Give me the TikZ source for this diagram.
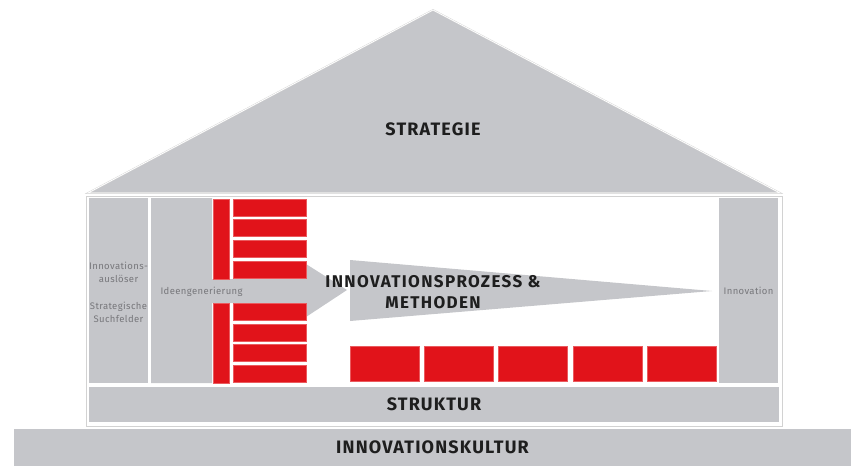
\documentclass[tikz,border=0pt]{standalone}
\usepackage{fontspec}
\newfontfamily\titelfont[LetterSpace=6.5]{Fira Sans}
\newfontfamily\prozessfont[LetterSpace=8]{Fira Sans}
\newfontfamily\kleinfont[LetterSpace=4]{Fira Sans}
\definecolor{hausgrau}{HTML}{C5C6CA}
\definecolor{hausrot}{HTML}{E1131A}
\definecolor{hausrand}{HTML}{EA5A5E}
\definecolor{schrift}{HTML}{1E1E1E}
\definecolor{grautext}{HTML}{77777B}
\begin{document}
\begin{tikzpicture}[x=1pt, y=-1pt,
    grau/.style = {rectangle, fill = hausgrau, inner sep = 0pt},
    rot/.style = {rectangle, fill = hausrot, draw = hausrand,
      line width = 0.8pt, inner sep = 0pt},
    titel/.style = {font = \titelfont\bfseries\fontsize{18}{21}\selectfont,
      text = schrift},
    klein/.style = {font = \kleinfont\fontsize{9.5}{13}\selectfont,
      text = grautext, align = center}]
\useasboundingbox (0,0) rectangle (864,473);

% roof
\filldraw[fill = hausgrau, draw = gray!35, double = white,
    double distance = 0.8pt] (88,193) -- (433,10) -- (780,193) -- cycle;
\node[titel] (strategie) at (433,129) {STRATEGIE};

% frame of the house
\draw[gray!35, line width = 0.8pt] (86,196) rectangle (782,426);

% left columns
\node[grau,
    minimum width = 59pt,
    minimum height = 185pt] (ausloeser) at (118.5,290.5) {};
\node[klein] (ausloesertext) at (118.5,292) {Innovations-\\auslöser\\[14pt]Strategische\\Suchfelder};

\fill[hausgrau] (151,198) -- (212,198) -- (212,279) -- (306,279) -- (306,264)
    -- (347,290) -- (306,317) -- (306,303) -- (212,303) -- (212,383)
    -- (151,383) -- cycle;
\node[klein, anchor = west] (ideen) at (157,292) {Ideengenerierung};

% ideas, upper block
\node[rot,
    minimum width = 16pt,
    minimum height = 80pt] (ro) at (221,239) {};
\node[rot,
    minimum width = 73pt,
    minimum height = 17pt] (ro1) at (269.5,207.5) {};
\node[rot,
    minimum width = 73pt,
    minimum height = 17pt] (ro2) at (269.5,228) {};
\node[rot,
    minimum width = 73pt,
    minimum height = 17pt] (ro3) at (269.5,249) {};
\node[rot,
    minimum width = 73pt,
    minimum height = 17pt] (ro4) at (269.5,270) {};

% ideas, lower block
\node[rot,
    minimum width = 16pt,
    minimum height = 80pt] (ru) at (221,343) {};
\node[rot,
    minimum width = 73pt,
    minimum height = 17pt] (ru1) at (269.5,311.5) {};
\node[rot,
    minimum width = 73pt,
    minimum height = 17pt] (ru2) at (269.5,332.5) {};
\node[rot,
    minimum width = 73pt,
    minimum height = 17pt] (ru3) at (269.5,353) {};
\node[rot,
    minimum width = 73pt,
    minimum height = 17pt] (ru4) at (269.5,373.5) {};

% process arrow
\fill[hausgrau] (350,260) -- (712,291) -- (350,321) -- cycle;
\node[titel, align = center, font = \prozessfont\bfseries\fontsize{17}{21}\selectfont]
    (prozess) at (433,292) {INNOVATIONSPROZESS \&\\METHODEN};

% methods
\node[rot,
    minimum width = 69pt,
    minimum height = 35pt] (m1) at (385,364) {};
\node[rot,
    minimum width = 69pt,
    minimum height = 35pt] (m2) at (459,364) {};
\node[rot,
    minimum width = 69pt,
    minimum height = 35pt] (m3) at (533,364) {};
\node[rot,
    minimum width = 69pt,
    minimum height = 35pt] (m4) at (608,364) {};
\node[rot,
    minimum width = 69pt,
    minimum height = 35pt] (m5) at (682,364) {};

% right column
\node[grau, klein,
    minimum width = 59pt,
    minimum height = 185pt] (innovation) at (748.5,290.5) {Innovation};

% base
\node[grau, titel,
    minimum width = 690pt,
    minimum height = 35pt] (struktur) at (434,404.5) {STRUKTUR};
\node[grau, titel,
    minimum width = 837pt,
    minimum height = 37pt] (kultur) at (432.5,447.5) {INNOVATIONSKULTUR};

\end{tikzpicture}
\end{document}
